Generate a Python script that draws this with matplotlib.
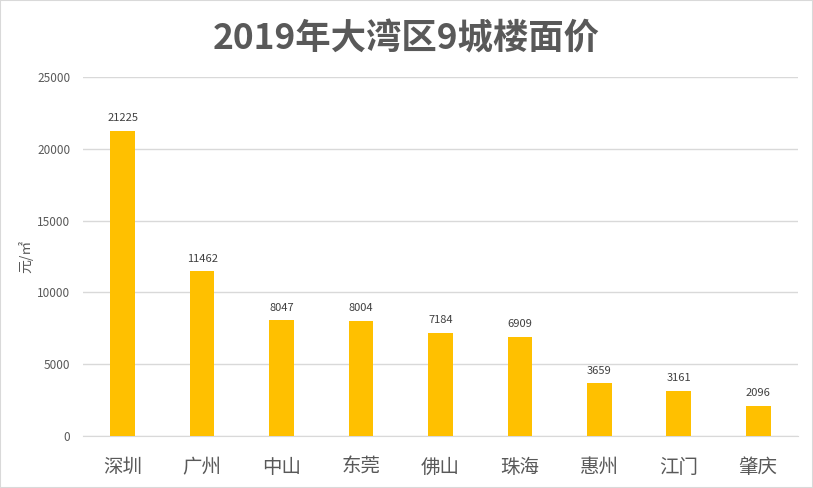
import matplotlib.pyplot as plt
from matplotlib.patches import Rectangle

plt.rcParams['font.family'] = ['Noto Sans CJK SC', 'DejaVu Sans']

# 数据
cities = ["深圳", "广州", "中山", "东莞", "佛山", "珠海", "惠州", "江门", "肇庆"]
prices = [21225, 11462, 8047, 8004, 7184, 6909, 3659, 3161, 2096]
yticks = [0, 5000, 10000, 15000, 20000, 25000]

fig = plt.figure(figsize=(8.13, 4.88), dpi=100)
ax = fig.add_axes([0.102, 0.1066, 0.8795, 0.7354])

x = range(len(cities))
ax.bar(x, prices, width=0.31, color="#FFC000", zorder=3)
for i, v in zip(x, prices):
    ax.text(i, v + 550, str(v), ha="center", va="bottom", fontsize=8, color="#404040")

ax.set_xlim(-0.5, len(cities) - 0.5)
ax.set_ylim(0, 25000)
ax.set_yticks(yticks)
ax.set_yticklabels([str(t) for t in yticks], fontsize=8.5, color="#595959")
ax.set_xticks(list(x))
ax.set_xticklabels(cities, fontsize=14, color="#595959")
ax.tick_params(axis="both", length=0)
ax.tick_params(axis="x", pad=15)
ax.tick_params(axis="y", pad=9)
ax.grid(axis="y", color="#D9D9D9", linewidth=1, zorder=0)
for s in ["top", "right", "left"]:
    ax.spines[s].set_visible(False)
ax.spines["bottom"].set_color("#D9D9D9")

ax.set_ylabel("元/㎡", fontsize=10, color="#595959")
ax.yaxis.set_label_coords(-0.07, 0.5)

fig.text(0.5, 0.92, "2019年大湾区9城楼面价", ha="center", va="center",
         fontsize=25.5, fontweight="bold", color="#595959")

# 外框
fig.patches.append(Rectangle((0, 0), 1, 1, transform=fig.transFigure,
                             fill=False, edgecolor="#D9D9D9", linewidth=1.5))

fig.savefig("out.png", dpi=100)
